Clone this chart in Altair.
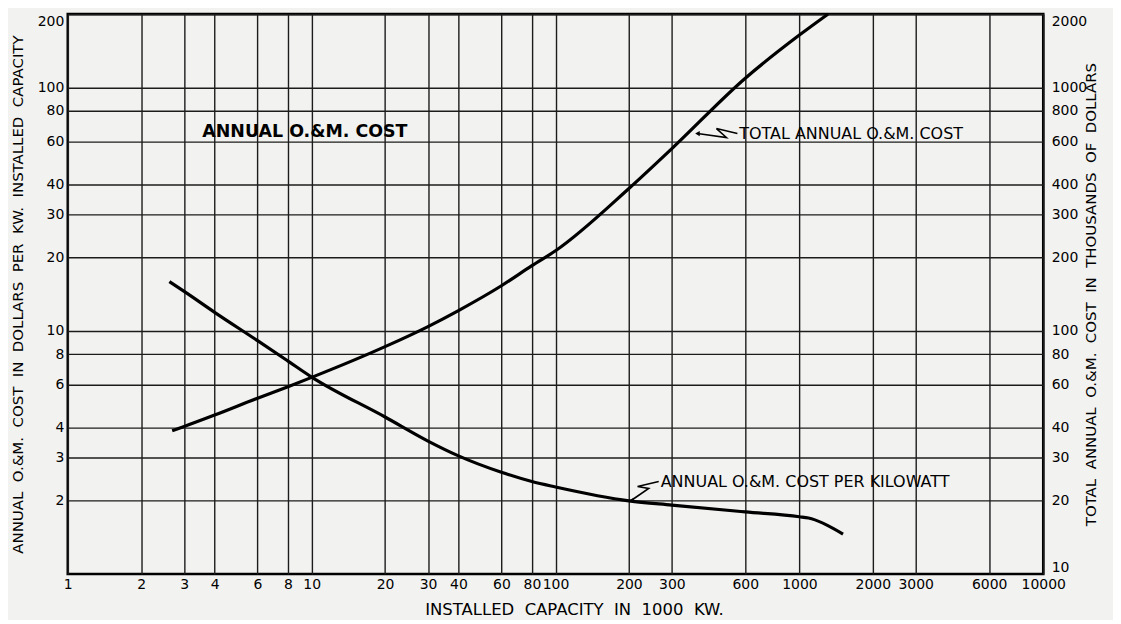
import altair as alt
import pandas as pd

# ---- data (capacity in 1000 kW) ----
cap_kw = [2.61, 3, 4, 6, 8, 10, 20, 30, 40, 60, 80, 100, 200, 300, 600, 1000, 1090, 1510]
cost_per_kw = [15.9, 14.5, 11.9, 9.1, 7.5, 6.45, 4.42, 3.52, 3.06, 2.62, 2.40, 2.28, 2.0, 1.92, 1.80, 1.72, 1.70, 1.46]

cap_total = [2.68, 3, 4, 6, 8, 10, 20, 30, 40, 60, 80, 100, 200, 300, 600, 1000, 1310]
cost_total = [38.8, 40.4, 45.0, 52.8, 58.9, 64.3, 86, 104, 121, 153, 185, 213, 384, 560, 1090, 1640, 2000]

x_ticks = [1, 2, 3, 4, 6, 8, 10, 20, 30, 40, 60, 80, 100, 200, 300, 600, 1000, 2000, 3000, 6000, 10000]
left_ticks = [2, 3, 4, 6, 8, 10, 20, 30, 40, 60, 80, 100, 200]
right_ticks = [10, 20, 30, 40, 60, 80, 100, 200, 300, 400, 600, 800, 1000, 2000]

# annotation texts (anchored in capacity / left-axis units)
label_text = ["TOTAL ANNUAL O.&M. COST", "ANNUAL O.&M. COST PER KILOWATT"]
label_x = [567, 270]
label_y = [64.6, 2.38]

title_text = ["ANNUAL O.&M. COST"]
title_x = [3.56]
title_y = [65.4]

leader_id = ["t", "t", "t", "t", "k", "k", "k", "k"]
leader_seq = [0, 1, 2, 3, 0, 1, 2, 3]
leader_x = [557, 457, 502, 382, 265, 217, 241, 205]
leader_y = [64.6, 67.7, 62.2, 64.6, 2.40, 2.29, 2.25, 2.01]

FONT = "DejaVu Sans"
NB = " \u00a0"


def wide(s):
    return s.replace(" ", NB)


kw_df = pd.DataFrame({"cap": cap_kw, "cost": cost_per_kw})
tot_df = pd.DataFrame({"cap": cap_total, "total": cost_total})
lab_df = pd.DataFrame({"cap": label_x, "cost": label_y, "text": label_text})
ttl_df = pd.DataFrame({"cap": title_x, "cost": title_y, "text": title_text})
lead_df = pd.DataFrame({"cap": leader_x, "cost": leader_y, "id": leader_id, "seq": leader_seq})
tip_df = lead_df[lead_df["seq"] == 3]

x_scale = alt.Scale(type="log", domain=[1, 10000], nice=False)
yl_scale = alt.Scale(type="log", domain=[1, 200], nice=False)
yr_scale = alt.Scale(type="log", domain=[10, 2000], nice=False)

x_axis = alt.Axis(
    values=x_ticks, format="d", title=wide("INSTALLED CAPACITY IN 1000 KW."),
    grid=True, gridColor="#1c1c1c", gridWidth=1.4, ticks=False, domain=False,
    labelFlush=False, labelPadding=3, labelFontSize=14, titleFontSize=16.5,
    titlePadding=11, titleX=508,
)
yl_axis = alt.Axis(
    values=left_ticks, format="d",
    title=wide("ANNUAL O.&M. COST IN DOLLARS PER KW. INSTALLED CAPACITY"),
    grid=True, gridColor="#1c1c1c", gridWidth=1.4, ticks=False, domain=False,
    labelFlush=True, labelPadding=4, labelFontSize=14, titleFontSize=15,
    titlePadding=12,
)
yr_axis = alt.Axis(
    values=right_ticks, format="d", orient="right",
    title=wide("TOTAL ANNUAL O.&M. COST IN THOUSANDS OF DOLLARS"),
    grid=False, ticks=False, domain=False, labelFlush=True, labelPadding=8,
    labelFontSize=14, titleFontSize=15, titlePadding=12, titleAngle=270,
)

x_enc = alt.X("cap:Q", scale=x_scale, axis=x_axis)
yl_enc = alt.Y("cost:Q", scale=yl_scale, axis=yl_axis)

kw_line = alt.Chart(kw_df).mark_line(
    color="black", strokeWidth=3.2, interpolate="monotone"
).encode(x=x_enc, y=yl_enc)

leaders = alt.Chart(lead_df).mark_line(color="black", strokeWidth=1.6).encode(
    x=x_enc, y=yl_enc, detail="id:N", order="seq:Q"
)
tips = alt.Chart(tip_df).mark_point(
    color="black", filled=True, size=28, shape="triangle-left", opacity=1
).encode(x=x_enc, y=yl_enc)

labels = alt.Chart(lab_df).mark_text(
    align="left", baseline="middle", font=FONT, fontSize=16, color="black"
).encode(x=x_enc, y=yl_enc, text="text:N")

big_title = alt.Chart(ttl_df).mark_text(
    align="left", baseline="middle", font=FONT, fontSize=17.5,
    fontWeight="bold", color="black"
).encode(x=x_enc, y=yl_enc, text="text:N")

left = alt.layer(kw_line, leaders, tips, labels, big_title)

right = alt.Chart(tot_df).mark_line(
    color="black", strokeWidth=3.2, interpolate="monotone"
).encode(x=x_enc, y=alt.Y("total:Q", scale=yr_scale, axis=yr_axis))

chart = (
    alt.layer(left, right)
    .resolve_scale(y="independent")
    .properties(
        width=979, height=562,
        padding={"left": 60, "top": 5, "right": 70, "bottom": 45},
        autosize="none", background="#f2f2f0",
    )
    .configure_axis(
        labelFont=FONT, titleFont=FONT, labelColor="black", titleColor="black",
        titleFontWeight="normal",
    )
    .configure_view(stroke="black", strokeWidth=2.6)
)

chart.save("out.html", embed_options={"renderer": "svg", "actions": False})
